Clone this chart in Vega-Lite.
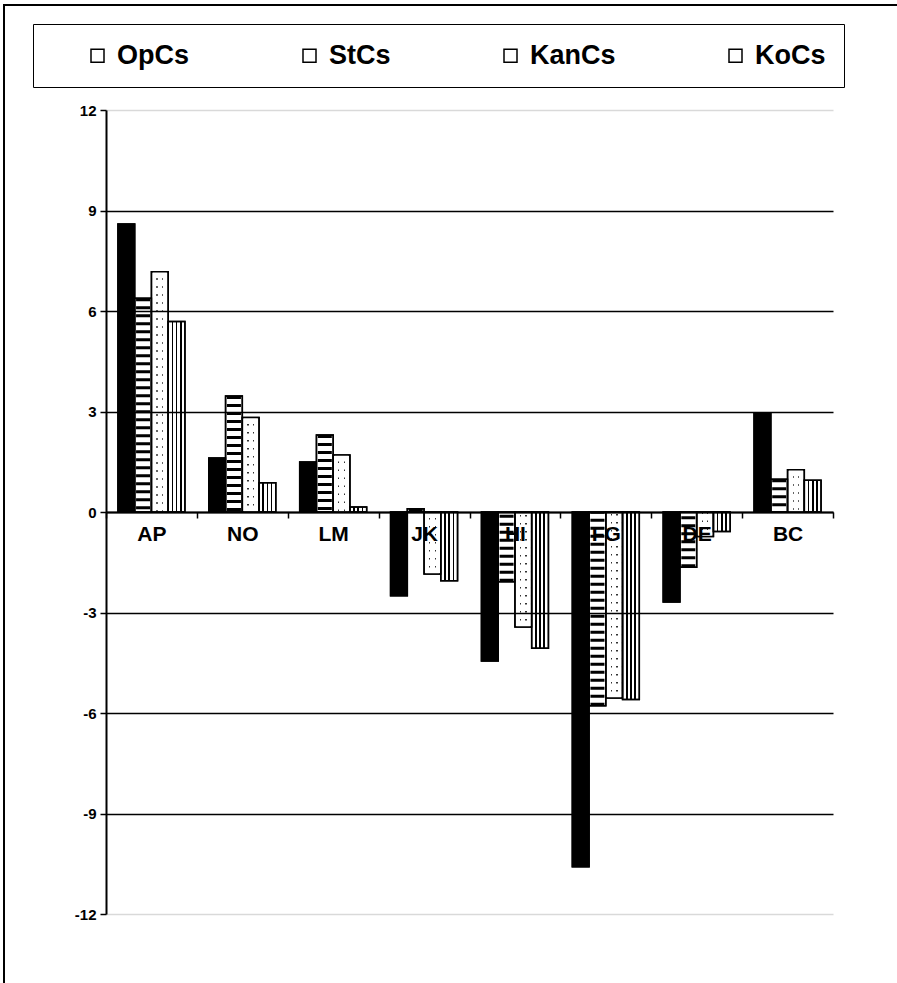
{
  "$schema": "https://vega.github.io/schema/vega-lite/v6.json",
  "width": 895,
  "height": 980,
  "autosize": {"type": "none"},
  "padding": {"left": 4, "top": 5, "right": 0, "bottom": 0},
  "background": "white",
  "config": {
    "view": {"stroke": "black", "strokeWidth": 2, "fill": "white"},
    "font": "Liberation Sans"
  },
  "data": {
    "values": [
      {"cat": "AP", "series": "OpCs", "value": 8.6},
      {"cat": "AP", "series": "StCs", "value": 6.38},
      {"cat": "AP", "series": "KanCs", "value": 7.17},
      {"cat": "AP", "series": "KoCs", "value": 5.69},
      {"cat": "NO", "series": "OpCs", "value": 1.61},
      {"cat": "NO", "series": "StCs", "value": 3.46},
      {"cat": "NO", "series": "KanCs", "value": 2.82},
      {"cat": "NO", "series": "KoCs", "value": 0.87},
      {"cat": "LM", "series": "OpCs", "value": 1.49},
      {"cat": "LM", "series": "StCs", "value": 2.3},
      {"cat": "LM", "series": "KanCs", "value": 1.7},
      {"cat": "LM", "series": "KoCs", "value": 0.15},
      {"cat": "JK", "series": "OpCs", "value": -2.5},
      {"cat": "JK", "series": "StCs", "value": 0.1},
      {"cat": "JK", "series": "KanCs", "value": -1.85},
      {"cat": "JK", "series": "KoCs", "value": -2.05},
      {"cat": "HI", "series": "OpCs", "value": -4.45},
      {"cat": "HI", "series": "StCs", "value": -2.08},
      {"cat": "HI", "series": "KanCs", "value": -3.43},
      {"cat": "HI", "series": "KoCs", "value": -4.07},
      {"cat": "FG", "series": "OpCs", "value": -10.59},
      {"cat": "FG", "series": "StCs", "value": -5.78},
      {"cat": "FG", "series": "KanCs", "value": -5.55},
      {"cat": "FG", "series": "KoCs", "value": -5.6},
      {"cat": "DE", "series": "OpCs", "value": -2.69},
      {"cat": "DE", "series": "StCs", "value": -1.65},
      {"cat": "DE", "series": "KanCs", "value": -0.73},
      {"cat": "DE", "series": "KoCs", "value": -0.58},
      {"cat": "BC", "series": "OpCs", "value": 2.94},
      {"cat": "BC", "series": "StCs", "value": 0.98},
      {"cat": "BC", "series": "KanCs", "value": 1.26},
      {"cat": "BC", "series": "KoCs", "value": 0.95}
    ]
  },
  "layer": [
    {
      "mark": {"type": "bar", "strokeWidth": 1.5},
      "encoding": {
        "x": {
          "field": "cat",
          "type": "nominal",
          "scale": {
            "domain": ["AP", "NO", "LM", "JK", "HI", "FG", "DE", "BC"],
            "range": [102, 829],
            "paddingInner": 0,
            "paddingOuter": 0
          },
          "axis": {
            "title": null,
            "offset": {"expr": "scale('y', 0) - height"},
            "tickBand": "extent",
            "labelAngle": 0,
            "labelFont": "Liberation Sans",
            "labelFontSize": 21,
            "labelFontWeight": "bold",
            "labelColor": "black",
            "labelPadding": 5,
            "tickColor": "black",
            "tickSize": 6,
            "tickWidth": 1.5,
            "domainColor": "black",
            "domainWidth": 2,
            "zindex": 1
          }
        },
        "xOffset": {
          "field": "series",
          "type": "nominal",
          "scale": {
            "domain": ["OpCs", "StCs", "KanCs", "KoCs"],
            "paddingInner": 0,
            "paddingOuter": 0.7135
          }
        },
        "y": {
          "field": "value",
          "type": "quantitative",
          "scale": {"domain": [-12, 12], "range": [909, 105], "nice": false, "zero": false},
          "axis": {
            "title": null,
            "offset": -102,
            "values": [-12, -9, -6, -3, 0, 3, 6, 9, 12],
            "labelExpr": "(datum.value < 0 ? '-' : '') + abs(datum.value)",
            "labelFont": "Liberation Sans",
            "labelFontSize": 15,
            "labelFontWeight": "bold",
            "labelColor": "black",
            "labelPadding": 4,
            "tickColor": "black",
            "tickSize": 6,
            "tickWidth": 1.5,
            "domainColor": "black",
            "domainWidth": 2,
            "grid": true,
            "gridColor": {"condition": {"test": "abs(datum.value) == 12", "value": "#d9d9d9"}, "value": "black"},
            "gridWidth": 1.5,
            "zindex": 1
          }
        },
        "fill": {
          "condition": [
            {"test": "datum.series === 'OpCs'", "value": "black"},
            {
              "test": "datum.series === 'KanCs'",
              "value": {"gradient": "linear", "x1": 0, "y1": 0, "x2": 1, "y2": 0, "stops": [
                {"offset": 0, "color": "white"}, {"offset": 0.3, "color": "white"},
                {"offset": 0.3, "color": "#333333"}, {"offset": 0.37, "color": "#333333"},
                {"offset": 0.37, "color": "white"}, {"offset": 0.63, "color": "white"},
                {"offset": 0.63, "color": "#333333"}, {"offset": 0.7, "color": "#333333"},
                {"offset": 0.7, "color": "white"}, {"offset": 1, "color": "white"}
              ]}
            },
            {
              "test": "datum.series === 'KoCs'",
              "value": {"gradient": "linear", "x1": 0, "y1": 0, "x2": 1, "y2": 0, "stops": [
                {"offset": 0, "color": "white"}, {"offset": 0.2, "color": "white"},
                {"offset": 0.2, "color": "black"}, {"offset": 0.3, "color": "black"},
                {"offset": 0.3, "color": "white"}, {"offset": 0.45, "color": "white"},
                {"offset": 0.45, "color": "black"}, {"offset": 0.55, "color": "black"},
                {"offset": 0.55, "color": "white"}, {"offset": 0.7, "color": "white"},
                {"offset": 0.7, "color": "black"}, {"offset": 0.8, "color": "black"},
                {"offset": 0.8, "color": "white"}, {"offset": 1, "color": "white"}
              ]}
            }
          ],
          "value": "white"
        },
        "stroke": {
          "field": "series",
          "type": "nominal",
          "scale": {
            "domain": ["OpCs", "StCs", "KanCs", "KoCs"],
            "range": ["black", "black", "black", "black"]
          },
          "legend": {
            "title": null,
            "orient": "none",
            "legendX": 29,
            "legendY": 19,
            "direction": "horizontal",
            "symbolType": "square",
            "symbolSize": 169,
            "symbolStrokeWidth": 1.5,
            "symbolOffset": 33,
            "labelOffset": 6,
            "columnPadding": 73,
            "padding": 18,
            "labelFont": "Liberation Sans",
            "labelFontSize": 27,
            "labelFontWeight": "bold",
            "labelColor": "black",
            "labelLimit": 400,
            "strokeColor": "black",
            "fillColor": "white",
            "encode": {
              "legend": {"strokeWidth": {"value": 2}},
              "symbols": {
                "strokeWidth": {"value": 1.5},
                "fill": {"value": {"expr": "datum.value === 'OpCs' ? 'black' : datum.value === 'StCs' ? {gradient: 'linear', x1: 0, y1: 0, x2: 1, y2: 1, stops: [{offset: 0, color: 'white'}, {offset: 0.43, color: 'white'}, {offset: 0.43, color: 'black'}, {offset: 0.57, color: 'black'}, {offset: 0.57, color: 'white'}, {offset: 1, color: 'white'}]} : datum.value === 'KoCs' ? {gradient: 'linear', x1: 0, y1: 0, x2: 1, y2: 0, stops: [{offset: 0, color: 'white'}, {offset: 0.2, color: 'white'}, {offset: 0.2, color: 'black'}, {offset: 0.3, color: 'black'}, {offset: 0.3, color: 'white'}, {offset: 0.45, color: 'white'}, {offset: 0.45, color: 'black'}, {offset: 0.55, color: 'black'}, {offset: 0.55, color: 'white'}, {offset: 0.7, color: 'white'}, {offset: 0.7, color: 'black'}, {offset: 0.8, color: 'black'}, {offset: 0.8, color: 'white'}, {offset: 1, color: 'white'}]} : 'white'"}}
              }
            }
          }
        }
      }
    },
    {
      "transform": [{"filter": "datum.series === 'StCs'"}],
      "mark": {"type": "rule", "stroke": "black", "strokeWidth": 14, "strokeDash": [3, 5], "strokeCap": "butt"},
      "encoding": {
        "x": {"field": "cat", "type": "nominal"},
        "xOffset": {"field": "series", "type": "nominal"},
        "y": {"field": "value", "type": "quantitative"},
        "y2": {"datum": 0}
      }
    },
    {
      "transform": [{"filter": "datum.series === 'KanCs'"}],
      "mark": {"type": "rule", "stroke": "white", "strokeWidth": 14, "strokeDash": [6.5, 1.5], "strokeCap": "butt"},
      "encoding": {
        "x": {"field": "cat", "type": "nominal"},
        "xOffset": {"field": "series", "type": "nominal"},
        "y": {"field": "value", "type": "quantitative"},
        "y2": {"datum": 0}
      }
    },
    {
      "mark": {"type": "bar", "fill": "transparent", "stroke": "black", "strokeWidth": 1.5},
      "encoding": {
        "x": {"field": "cat", "type": "nominal"},
        "xOffset": {"field": "series", "type": "nominal"},
        "y": {"field": "value", "type": "quantitative"}
      }
    }
  ]
}
